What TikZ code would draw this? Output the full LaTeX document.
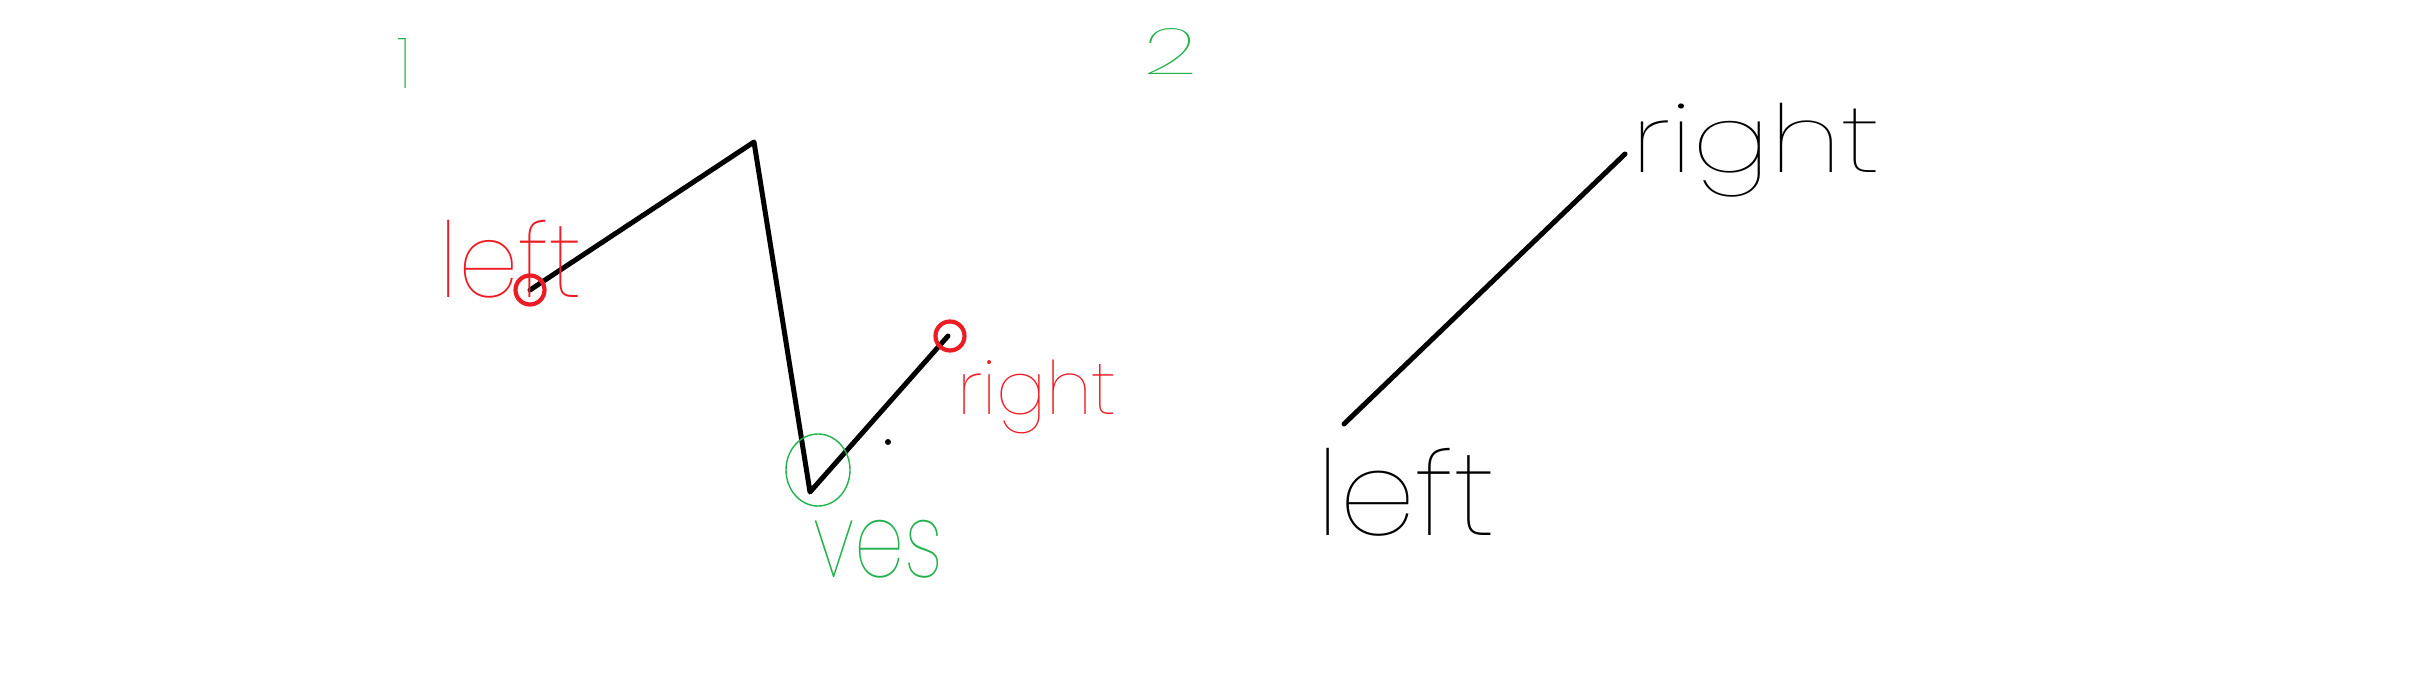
\documentclass[tikz,border=0pt]{standalone}
\usepackage{fontspec}
\newfontfamily\handfont{Poppins Thin}
\usetikzlibrary{positioning,shapes.geometric}
\definecolor{paintred}{RGB}{237,28,36}
\definecolor{paintgreen}{RGB}{34,177,76}
% scribble text squeezed into a given box (width, total height)
\newcommand{\scrawl}[3]{\resizebox*{#1}{#2}{\handfont #3}}

\begin{document}
\begin{tikzpicture}[x=0.1mm, y=-0.1mm, line cap=round, line join=round]

  % Styles
  \tikzset{
    stroke/.style={line width=0.5mm, draw=black},
    endring/.style={circle, draw=paintred, line width=0.42mm, minimum size=2.9mm, inner sep=0pt},
    vesring/.style={ellipse, draw=paintgreen, line width=0.14mm, minimum width=6.4mm, minimum height=7.2mm, inner sep=0pt},
    note/.style={inner sep=0pt, outer sep=0pt},
    dot/.style={circle, fill=black, inner sep=0pt, minimum size=0.6mm}
  }

  \useasboundingbox (0,0) rectangle (2428,673);

  % --- PANEL 1: left / right ends and the ves corner ---
  \begin{scope}
    % Number
    \node[note, paintgreen] (num1) at (404,64) {\scrawl{1.4mm}{5mm}{1}};
    % Vertices
    \coordinate (L1) at (530,290);
    \coordinate (P1) at (754,142);
    \coordinate (V1) at (810,492);
    \coordinate (R1) at (948,336);
    % Polyline
    \draw[stroke] (L1) -- (P1) -- (V1) -- (R1);
    % Rings
    \node[endring] (ringL) at (L1) {};
    \node[endring] (ringR) at (950,336) {};
    \node[vesring] (ringV) at (818,470) {};
    \node[dot] (mid1) at (888,442) {};
    % Labels
    \node[note, paintred] (left1) at (511,259) {\scrawl{14.2mm}{7.8mm}{left}};
    \node[note, paintred] (right1) at (1037,397) {\scrawl{16mm}{7.4mm}{right}};
    \node[note, paintgreen] (ves1) at (878,549) {\scrawl{13mm}{5.8mm}{ves}};
  \end{scope}

  % --- PANEL 2: a single segment ---
  \begin{scope}
    % Number
    \node[note, paintgreen] (num2) at (1170,52) {\scrawl{5.4mm}{4.6mm}{2}};
    % Ends
    \coordinate (L2) at (1344,424);
    \coordinate (R2) at (1625,154);
    % Segment
    \draw[stroke] (L2) -- (R2);
    % Labels
    \node[note] (left2) at (1406,492) {\scrawl{18mm}{8.8mm}{left}};
    \node[note] (right2) at (1756,150) {\scrawl{24.9mm}{9.4mm}{right}};
  \end{scope}

\end{tikzpicture}
\end{document}
